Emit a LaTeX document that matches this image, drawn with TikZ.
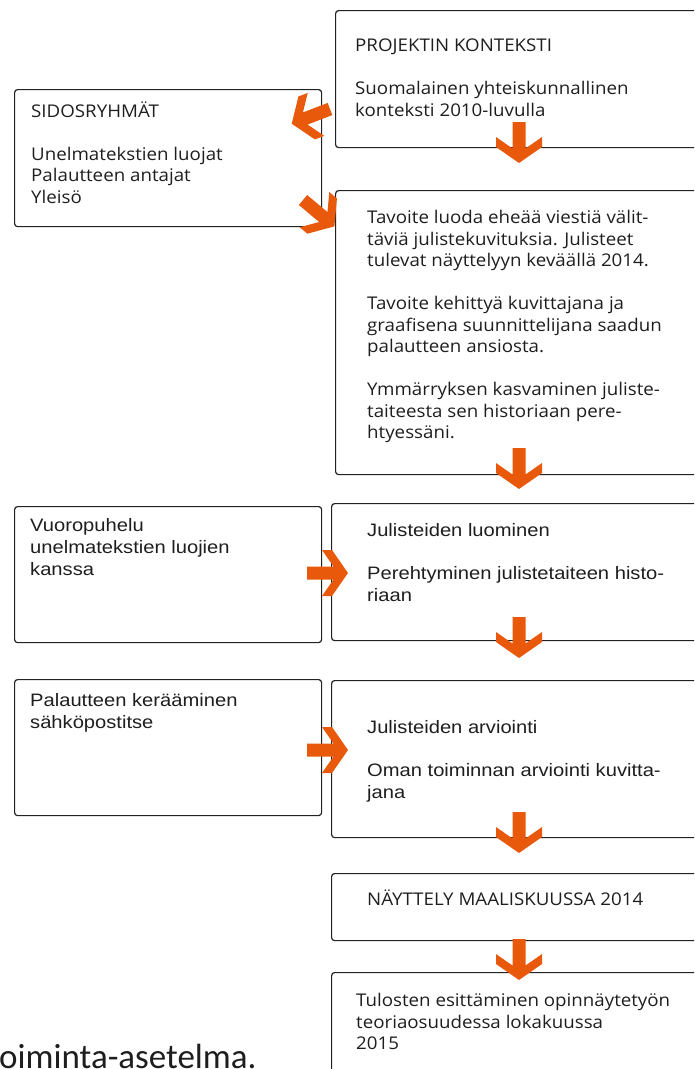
\documentclass[tikz,border=0pt]{standalone}
\usepackage{fontspec}
\setmainfont[FakeStretch=1.07]{Open Sans}
\newfontfamily\condf[FakeStretch=1.12]{Liberation Sans}
\newfontfamily\capf{Carlito}
\definecolor{arrowc}{RGB}{232,89,12}
\definecolor{linec}{RGB}{34,34,34}
\definecolor{textc}{RGB}{30,30,30}
\tikzset{
  box/.style={draw=linec, line width=1.2pt, rounded corners=3pt, anchor=north west, inner sep=0pt},
  txt/.style={anchor=north west, inner sep=0pt, align=left, text=textc, font=\fontsize{17.5}{21.5}\selectfont},
  ctxt/.style={anchor=north west, inner sep=0pt, align=left, text=textc, font=\condf\fontsize{18}{22}\selectfont},
  blockarrow/.pic={\fill[arrowc] (0,-6.5) -- (26.5,-6.5) -- (15,-23) -- (25,-23) -- (41,0) -- (25,23) -- (15,23) -- (26.5,6.5) -- (0,6.5) -- cycle;}
}
\begin{document}
\begin{tikzpicture}[x=1pt,y=-1pt]
\useasboundingbox (0,0) rectangle (694,1069);
\begin{scope}
\clip (0,0) rectangle (694,1069);
% boxes
\node[box, minimum width=375pt, minimum height=137pt] (b1) at (335,10) {};
\node[box, minimum width=307pt, minimum height=137pt] (b2) at (14,89) {};
\node[box, minimum width=375pt, minimum height=284pt] (b3) at (335,190) {};
\node[box, minimum width=307pt, minimum height=136pt] (b4) at (14,506) {};
\node[box, minimum width=379pt, minimum height=137pt] (b5) at (331,503) {};
\node[box, minimum width=307pt, minimum height=136pt] (b6) at (14,679) {};
\node[box, minimum width=379pt, minimum height=157pt] (b7) at (331,680) {};
\node[box, minimum width=379pt, minimum height=67pt] (b8) at (331,873) {};
\node[box, minimum width=379pt, minimum height=120pt] (b9) at (331,972) {};
% texts
\node[txt] (t1) at (355,36.5) {\strut PROJEKTIN KONTEKSTI\\[21.5pt] Suomalainen yhteiskunnallinen\\ konteksti 2010-luvulla};
\node[txt] (t2) at (31,101.5) {\strut SIDOSRYHMÄT\\[21.5pt] Unelmatekstien luojat\\ Palautteen antajat\\ Yleisö};
\node[txt] (t3) at (367,208.5) {\strut Tavoite luoda eheää viestiä välit-\\ täviä julistekuvituksia. Julisteet\\ tulevat näyttelyyn keväällä 2014.\\[21.5pt]
Tavoite kehittyä kuvittajana ja\\ graafisena suunnittelijana saadun\\ palautteen ansiosta.\\[21.5pt]
Ymmärryksen kasvaminen juliste-\\ taiteesta sen historiaan pere-\\ htyessäni.};
\node[ctxt] (t4) at (30,516) {\strut Vuoropuhelu\\ unelmatekstien luojien\\ kanssa};
\node[ctxt] (t5) at (367,521) {\strut Julisteiden luominen\\[21pt] Perehtyminen julistetaiteen histo-\\ riaan};
\node[ctxt] (t6) at (30,691) {\strut Palautteen kerääminen\\ sähköpostitse};
\node[ctxt] (t7) at (367,718) {\strut Julisteiden arviointi\\[21pt] Oman toiminnan arviointi kuvitta-\\ jana};
\node[txt] (t8) at (367,889.5) {\strut NÄYTTELY MAALISKUUSSA 2014};
\node[txt] (t9) at (356,991.5) {\strut Tulosten esittäminen opinnäytetyön\\ teoriaosuudessa lokakuussa\\ 2015};
\node[anchor=base west, inner sep=0pt, text=textc, font=\capf\fontsize{35}{40}\selectfont] (cap) at (-1,1068) {oiminta-asetelma.};
% block arrows
\pic[rotate=-90] at (519,122) {blockarrow};
\pic[rotate=-90] at (519,448) {blockarrow};
\pic[rotate=-90] at (519,617) {blockarrow};
\pic[rotate=-90] at (519,812) {blockarrow};
\pic[rotate=-90] at (519,939) {blockarrow};
\pic at (307,573) {blockarrow};
\pic at (307,750) {blockarrow};
\pic[rotate=201] at (330,109) {blockarrow};
\pic[rotate=-40] at (303,200) {blockarrow};
\end{scope}
\end{tikzpicture}
\end{document}
